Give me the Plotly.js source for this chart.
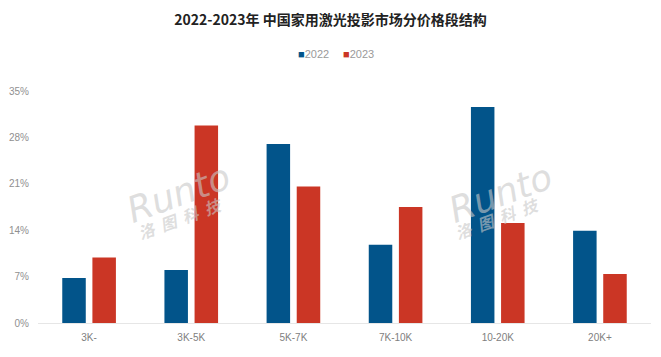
<!DOCTYPE html>
<html>
<head>
<meta charset="utf-8">
<script src="https://cdn.plot.ly/plotly-3.0.1.min.js"></script>
<style>html,body{margin:0;padding:0;background:#fff;}#chart{width:661px;height:357px;}</style>
</head>
<body>
<div id="chart"></div>
<script>
const categories = ["3K-", "3K-5K", "5K-7K", "7K-10K", "10-20K", "20K+"];
const values2022 = [6.8, 8.0, 27.0, 11.8, 32.6, 13.9];
const values2023 = [9.9, 29.8, 20.6, 17.5, 15.1, 7.4];
const seriesNames = ["2022", "2023"];
const seriesColors = ["#02548a", "#cb3625"];
const yTickVals = [0, 7, 14, 21, 28, 35];
const yTickText = ["0%", "7%", "14%", "21%", "28%", "35%"];

const traces = [
  {type: "bar", name: seriesNames[0], x: categories, y: values2022, marker: {color: seriesColors[0]}, showlegend: false},
  {type: "bar", name: seriesNames[1], x: categories, y: values2023, marker: {color: seriesColors[1]}, showlegend: false}
];

// plot area in pixels: x 38..651, y 91..323
const px = v => (v - 38) / 613;
const py = v => (323 - v) / 232;

const wmColor = "rgba(200,200,200,0.6)";
const wm = (cx, cy, cx2, cy2) => [
  {xref: "paper", yref: "paper", x: px(cx), y: py(cy), xanchor: "center", yanchor: "middle",
   text: "<i>Runto</i>", showarrow: false,
   font: {family: "DejaVu Sans", size: 36, color: wmColor}, textangle: -20},
  {xref: "paper", yref: "paper", x: px(cx2), y: py(cy2), xanchor: "center", yanchor: "middle",
   text: "<b><i>洛  图  科  技</i></b>", showarrow: false,
   font: {family: "Noto Sans CJK SC", size: 16, color: wmColor}, textangle: -20}
];

const legendX = [296, 341];
const legendAnn = seriesNames.map((n, i) => ({
  xref: "paper", yref: "paper", x: px(legendX[i]), y: py(54),
  xanchor: "left", yanchor: "middle", showarrow: false,
  text: '<span style="color:' + seriesColors[i] + '">■</span>' + n,
  font: {family: "Liberation Sans, Arial", size: 11, color: "#9a9a9a"}
}));

const layout = {
  width: 661, height: 357,
  margin: {l: 38, r: 10, t: 91, b: 34},
  paper_bgcolor: "#fff", plot_bgcolor: "#fff",
  font: {family: "Liberation Sans, Arial", color: "#888", size: 10},
  title: {text: "<b>2022-2023年 中国家用激光投影市场分价格段结构</b>", x: 0.5, xanchor: "center", y: 0.944, yanchor: "middle",
          font: {family: "Noto Sans CJK SC", size: 14, color: "#222"}},
  barmode: "group", bargap: 0.41, bargroupgap: 0.22,
  showlegend: false,
  xaxis: {type: "category", showgrid: false, showline: true, linecolor: "#e6e6e6", linewidth: 1,
          ticks: "", ticklabelstandoff: 5, tickfont: {size: 10, color: "#808080"}, fixedrange: true},
  yaxis: {range: [0, 35], tickvals: yTickVals, ticktext: yTickText, showgrid: false, zeroline: false,
          showline: false, ticks: "", ticklabelstandoff: 8, tickfont: {size: 10, color: "#909090"}, fixedrange: true},
  annotations: [...wm(178, 193, 180, 218), ...wm(500, 193, 497, 218), ...legendAnn]
};

Plotly.newPlot("chart", traces, layout, {displayModeBar: false, staticPlot: true});
</script>
</body>
</html>
